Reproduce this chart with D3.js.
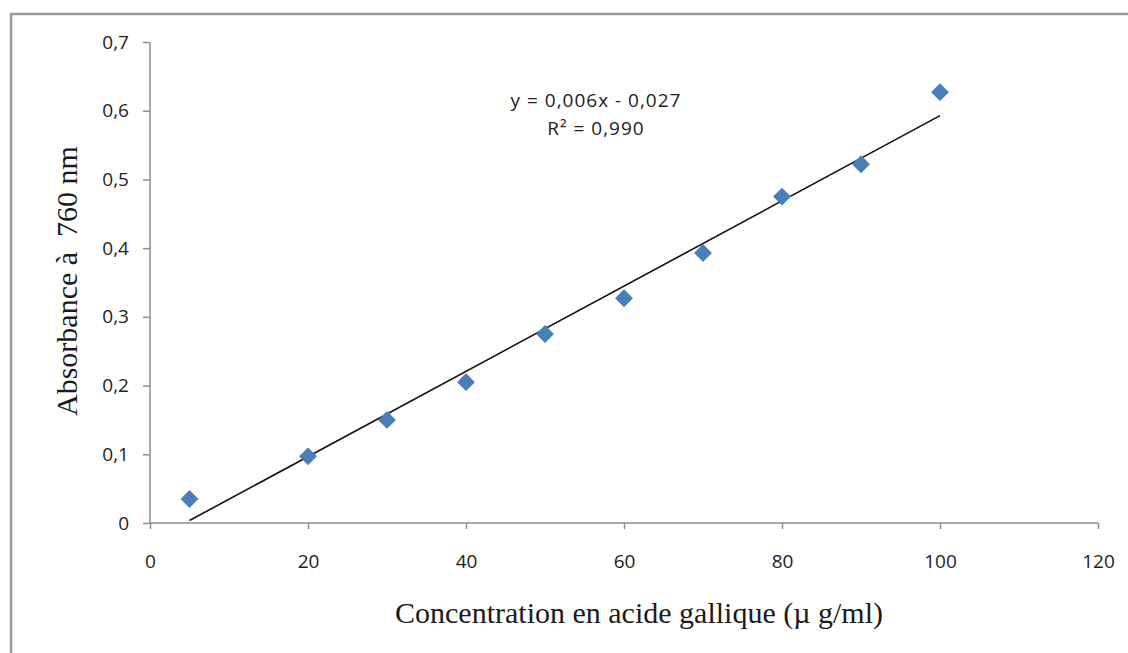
<!DOCTYPE html>
<meta charset="utf-8">
<style>
  body { margin: 0; background: #fff; }
  svg { display: block; }
  .tick text { font-family: "Open Sans", sans-serif; font-size: 19px; fill: #222; }
  .axis path, .axis line { stroke: #8c8c8c; stroke-width: 1.5px; }
  .title { font-family: "Liberation Serif", "Times New Roman", serif; font-size: 30px; fill: #1a1a1a; }
  .eq { font-family: "Open Sans", sans-serif; font-size: 19px; letter-spacing: 1px; fill: #222; }
</style>
<body>
<script src="https://cdn.jsdelivr.net/npm/d3@7"></script>
<script>
// gallic acid calibration
const conc = [5, 20, 30, 40, 50, 60, 70, 80, 90, 100];
const absorb = [0.035, 0.097, 0.150, 0.205, 0.275, 0.327, 0.393, 0.475, 0.522, 0.627];
const xTicks = [0, 20, 40, 60, 80, 100, 120];
const yTicks = [0, 0.1, 0.2, 0.3, 0.4, 0.5, 0.6, 0.7];
const eqLines = ['y = 0,006x - 0,027', 'R² = 0,990'];

const width = 1128, height = 653;
const margin = {top: 42, right: 30, bottom: 130, left: 150};

const svg = d3.select('body').append('svg')
  .attr('width', width)
  .attr('height', height);

// outer frame (only top and left edges are visible in the picture)
svg.append('path')
  .attr('d', `M11,${height} V14 H${width}`)
  .attr('fill', 'none')
  .attr('stroke', '#9a9a9a')
  .attr('stroke-width', 2.5);

const x = d3.scaleLinear().domain([0, 120]).range([margin.left, width - margin.right]);
const y = d3.scaleLinear().domain([0, 0.7]).range([height - margin.bottom, margin.top]);

const comma = d => d3.format('.1f')(d).replace('.', ',');

svg.append('g')
  .attr('class', 'axis')
  .attr('transform', `translate(0,${y(0)})`)
  .call(d3.axisBottom(x).tickValues(xTicks).tickSize(6).tickPadding(26).tickFormat(d3.format('d')))
  .call(g => g.select('.domain').attr('d', `M${x(0)},0H${x(120)}`));

svg.append('g')
  .attr('class', 'axis')
  .attr('transform', `translate(${x(0)},0)`)
  .call(d3.axisLeft(y).tickValues(yTicks).tickSize(7).tickPadding(14)
    .tickFormat(d => d === 0 ? '0' : comma(d)))
  .call(g => g.select('.domain').attr('d', `M0,${y(0)}V${y(0.7)}`));

// least squares trend line over the data range
const mx = d3.mean(conc), my = d3.mean(absorb);
const slope = d3.sum(conc, (c, i) => (c - mx) * (absorb[i] - my)) / d3.sum(conc, c => (c - mx) ** 2);
const icpt = my - slope * mx;
const ext = d3.extent(conc);

svg.append('line')
  .attr('x1', x(ext[0])).attr('y1', y(slope * ext[0] + icpt))
  .attr('x2', x(ext[1])).attr('y2', y(slope * ext[1] + icpt))
  .attr('stroke', '#111')
  .attr('stroke-width', 1.6);

svg.append('g')
  .selectAll('path')
  .data(conc)
  .enter().append('path')
    .attr('d', d3.symbol(d3.symbolSquare, 160))
    .attr('transform', (c, i) => `translate(${x(c)},${y(absorb[i])}) rotate(45)`)
    .attr('fill', '#4a7ebb');

svg.append('text')
  .attr('class', 'eq')
  .attr('text-anchor', 'middle')
  .selectAll('tspan')
  .data(eqLines)
  .enter().append('tspan')
    .attr('x', 596)
    .attr('y', (d, i) => 107 + i * 28)
    .text(d => d);

svg.append('text')
  .attr('class', 'title')
  .attr('text-anchor', 'middle')
  .attr('x', 639)
  .attr('y', 623)
  .text('Concentration en acide gallique (µ g/ml)');

svg.append('text')
  .attr('class', 'title')
  .attr('text-anchor', 'middle')
  .attr('transform', 'translate(77,281) rotate(-90)')
  .style('white-space', 'pre')
  .text('Absorbance à  760 nm');
</script>
</body>
</html>
